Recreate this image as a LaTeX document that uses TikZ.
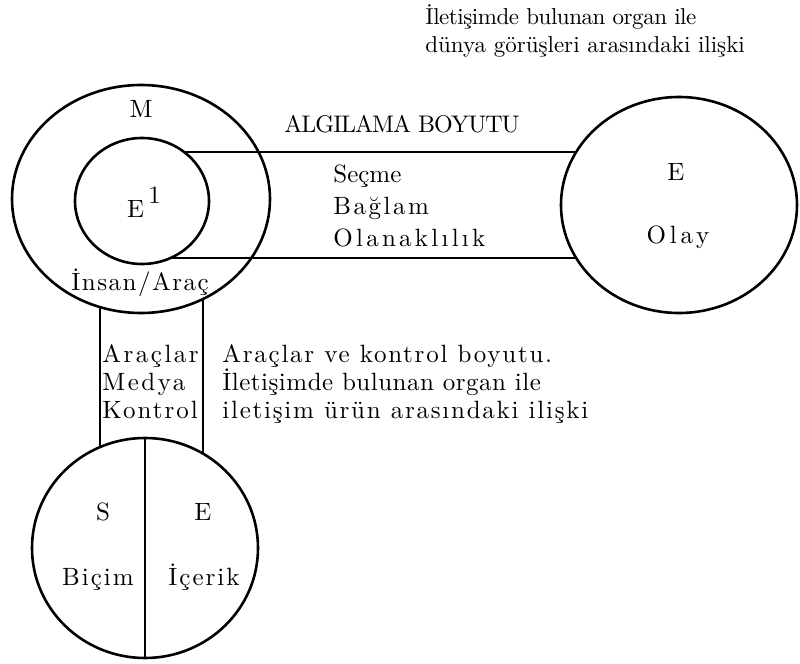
\documentclass[tikz,border=0pt]{standalone}
\usepackage{fontspec}
\setmainfont{lmroman10-regular.otf}
\usetikzlibrary{shapes.geometric}
\newcommand\trk[1]{\addfontfeature{LetterSpace=#1}}
\tikzset{
  ring/.style={draw, ellipse, line width=1.3pt, inner sep=0pt, outer sep=0pt},
  band/.style={line width=1.2pt},
  lbl/.style={inner sep=0pt, font=\fontsize{12.5}{14}\selectfont},
}
\begin{document}
\begin{tikzpicture}[x=0.5pt,y=-0.5pt]
    \useasboundingbox (0,0) rectangle (800,664);
    % circles
    \node[ring, minimum width=129pt, minimum height=114pt] (mring) at (141,199) {};
    \node[ring, minimum width=67pt, minimum height=63pt] (inner) at (142,201) {};
    \node[ring, minimum width=118pt, minimum height=108pt] (olay) at (679,205) {};
    \node[ring, minimum width=113pt, minimum height=110pt] (form) at (145,548) {};
    \draw[band, line width=1pt] (form.north) -- (form.south);
    % bands
    \draw[band] (inner.49) -- (inner.49 -| olay.153);
    \draw[band] (inner.297) -- (inner.297 -| olay.207);
    \draw[band, line width=1pt] (mring.249) -- (mring.249 |- form.114);
    \draw[band, line width=1pt] (mring.302) -- (mring.302 |- form.58);
    % labels
    \node[lbl, anchor=base] (mlbl) at (141,118) {M};
    \node[lbl, anchor=base] (elbl) at (144,217) {E\,\raisebox{7pt}{1}};
    \node[lbl, anchor=base] (insan) at (140,290) {\trk{6}İnsan/Araç};
    \node[lbl, anchor=base, font=\fontsize{12}{14}\selectfont] (algi) at (402,133) {\trk{-4}ALGILAMA BOYUTU};
    \node[lbl, anchor=base west, align=left, font=\fontsize{12.5}{16}\selectfont] (secme) at (333,246)
        {Seçme\\{\trk{10}Bağlam}\\{\trk{13}Olanaklılık}};
    \node[lbl, anchor=base] (olaye) at (676,180) {E};
    \node[lbl, anchor=base] (olayt) at (678,243) {\trk{15}Olay};
    \node[lbl, anchor=base west, align=left] (arac) at (102,418) {\trk{10}Araçlar\\\trk{10}Medya\\\trk{8}Kontrol};
    \node[lbl, anchor=base west, align=left] (boyut) at (222,418)
        {\trk{7}Araçlar ve kontrol boyutu.\\\trk{2}İletişimde bulunan organ ile\\\trk{7}iletişim ürün arasındaki ilişki};
    \node[lbl, anchor=base west, align=left, font=\fontsize{11.5}{14}\selectfont] (title) at (425,53)
        {\trk{-2}İletişimde bulunan organ ile\\dünya görüşleri arasındaki ilişki};
    \node[lbl, anchor=base] (slbl) at (103,520) {S};
    \node[lbl, anchor=base] (elbl2) at (203,520) {E};
    \node[lbl, anchor=base] (bicim) at (98,585) {\trk{8}Biçim};
    \node[lbl, anchor=base] (icerik) at (204,585) {\trk{8}İçerik};
\end{tikzpicture}
\end{document}
